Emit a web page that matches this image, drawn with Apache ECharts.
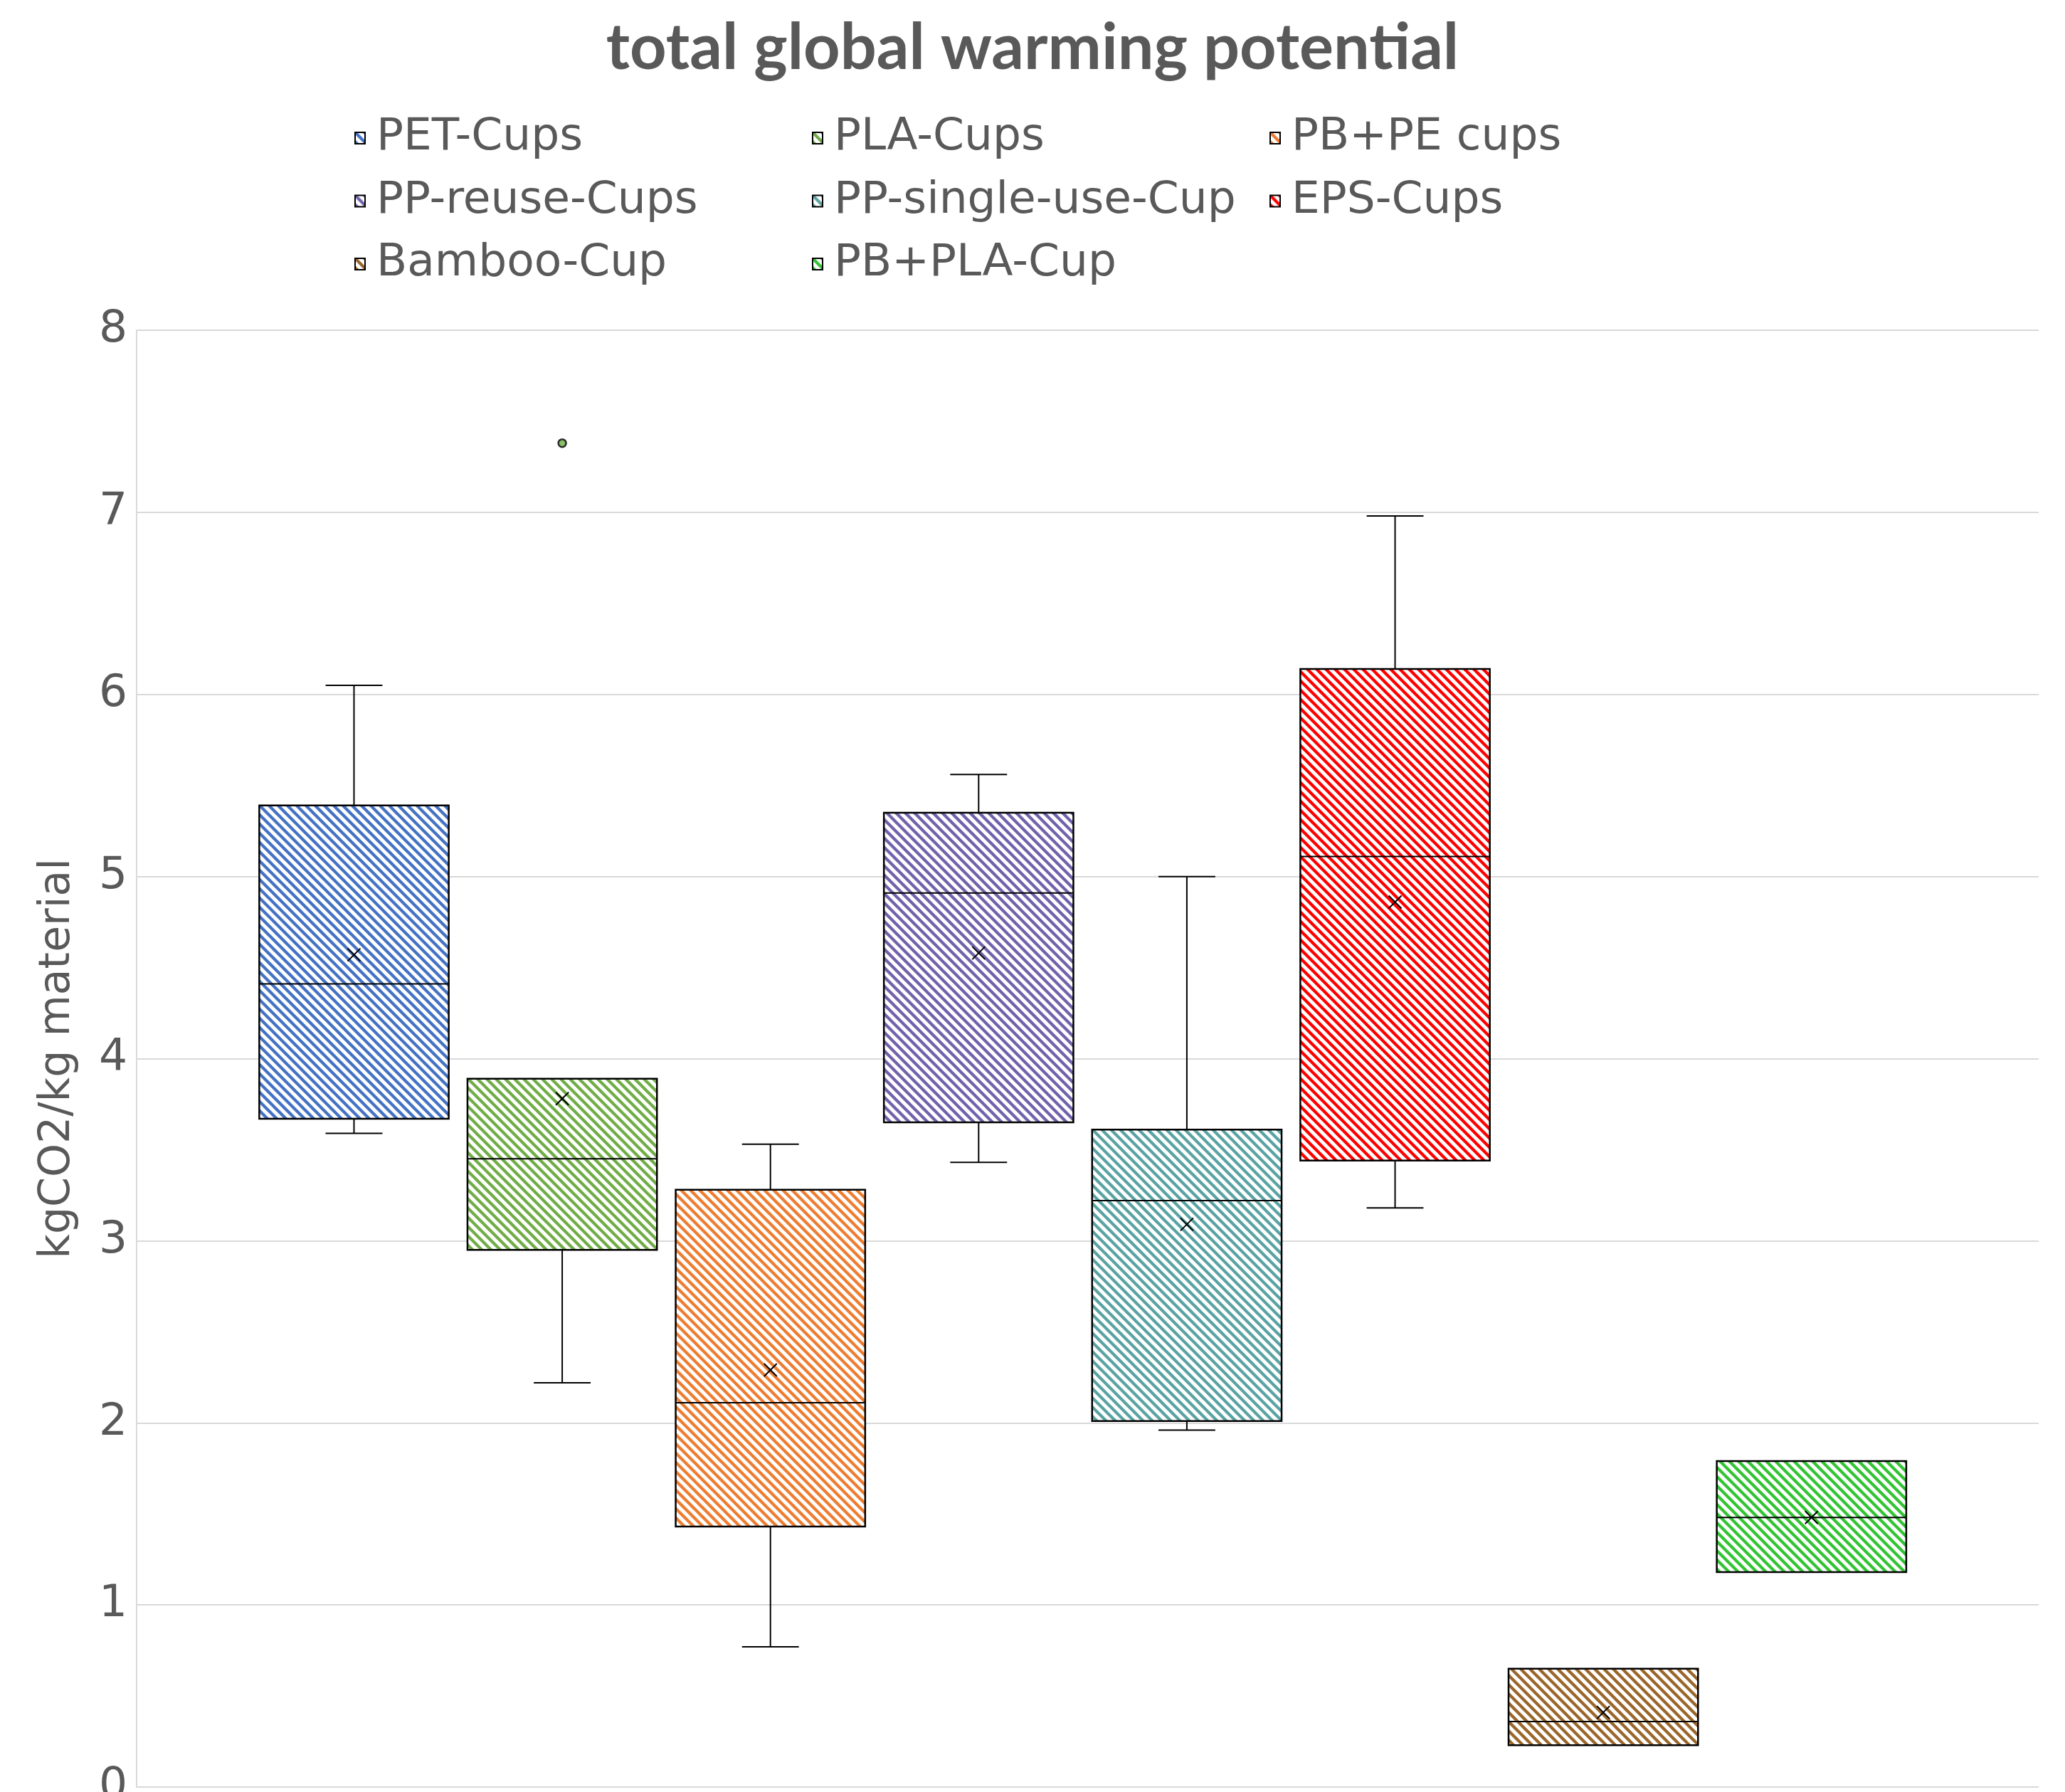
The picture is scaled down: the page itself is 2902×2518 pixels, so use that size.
<!DOCTYPE html>
<html>
<head>
<meta charset="utf-8">
<title>total global warming potential</title>
<script src="https://cdn.jsdelivr.net/npm/echarts@6/dist/echarts.min.js"></script>
<style>
  html, body { margin: 0; padding: 0; background: #ffffff; }
  #chart { width: 2902px; height: 2518px; }
</style>
</head>
<body>
<div id="chart"></div>
<script>
// Cup types, in plotting order
const cupNames = ['PET-Cups', 'PLA-Cups', 'PB+PE cups', 'PP-reuse-Cups', 'PP-single-use-Cup', 'EPS-Cups', 'Bamboo-Cup', 'PB+PLA-Cup'];
const cupColors = ['#4472c4', '#70ad47', '#ed7d31', '#7262ac', '#5ba3a3', '#ff0000', '#9a662a', '#33c433'];

// Five-number summaries plus mean, kgCO2 per kg material
const whiskerLow  = [3.59, 2.22, 0.77, 3.43, 1.96, 3.18, 0.23, 1.18];
const quartile1   = [3.67, 2.95, 1.43, 3.65, 2.01, 3.44, 0.23, 1.18];
const medianVals  = [4.41, 3.45, 2.11, 4.91, 3.22, 5.11, 0.36, 1.48];
const quartile3   = [5.39, 3.89, 3.28, 5.35, 3.61, 6.14, 0.65, 1.79];
const whiskerHigh = [6.05, 3.89, 3.53, 5.56, 5.00, 6.98, 0.65, 1.79];
const meanVals    = [4.57, 3.78, 2.29, 4.58, 3.09, 4.86, 0.41, 1.48];

// Outlying points: [cup index, value]
const outliers = [[1, 7.38]];

// Axis ticks
const yTicks = { min: 0, max: 8, interval: 1 };

// Box and whisker-cap widths in x-axis units (one unit between neighbouring boxes)
const BOX_W = 0.91;
const CAP_W = 0.273;
const MEAN_MARK = 9; // half size of the mean cross, px

// Diagonal ("\") hatch tile on white
function stripeTile(color) {
  const s = 13;
  const c = document.createElement('canvas');
  c.width = s; c.height = s;
  const g = c.getContext('2d');
  g.fillStyle = '#ffffff';
  g.fillRect(0, 0, s, s);
  g.strokeStyle = color;
  g.lineWidth = 4.3;
  [-s, 0, s].forEach(function (k) {
    g.beginPath();
    g.moveTo(k - 2, -2);
    g.lineTo(k + s + 2, s + 2);
    g.stroke();
  });
  return { image: c, repeat: 'repeat' };
}

const patterns = cupColors.map(stripeTile);

function renderBox(params, api) {
  const x = api.value(0);
  const lo = api.value(1), q1 = api.value(2), md = api.value(3), q3 = api.value(4), hi = api.value(5), mn = api.value(6);
  const children = [];
  const lineStyle = { stroke: '#000000', lineWidth: 2 };
  const hb = BOX_W / 2, hc = CAP_W / 2;

  function seg(a, b) {
    children.push({ type: 'line', shape: { x1: a[0], y1: a[1], x2: b[0], y2: b[1] }, style: lineStyle });
  }
  if (hi > q3) {
    seg(api.coord([x, q3]), api.coord([x, hi]));
    seg(api.coord([x - hc, hi]), api.coord([x + hc, hi]));
  }
  if (lo < q1) {
    seg(api.coord([x, q1]), api.coord([x, lo]));
    seg(api.coord([x - hc, lo]), api.coord([x + hc, lo]));
  }
  const tl = api.coord([x - hb, q3]);
  const br = api.coord([x + hb, q1]);
  children.push({
    type: 'rect',
    shape: { x: tl[0], y: tl[1], width: br[0] - tl[0], height: br[1] - tl[1] },
    style: { fill: patterns[params.seriesIndex], stroke: '#000000', lineWidth: 2.5 }
  });
  seg(api.coord([x - hb, md]), api.coord([x + hb, md]));
  const m = api.coord([x, mn]);
  seg([m[0] - MEAN_MARK, m[1] - MEAN_MARK], [m[0] + MEAN_MARK, m[1] + MEAN_MARK]);
  seg([m[0] - MEAN_MARK, m[1] + MEAN_MARK], [m[0] + MEAN_MARK, m[1] - MEAN_MARK]);
  return { type: 'group', children: children };
}

const boxSeries = cupNames.map(function (name, i) {
  return {
    name: name,
    type: 'custom',
    renderItem: renderBox,
    itemStyle: { color: patterns[i], borderColor: '#000000', borderWidth: 2 },
    encode: { x: 0, y: [1, 2, 3, 4, 5, 6] },
    data: [[i + 1, whiskerLow[i], quartile1[i], medianVals[i], quartile3[i], whiskerHigh[i], meanVals[i]]],
    z: 3
  };
});

const outlierSeries = {
  name: 'outliers',
  type: 'scatter',
  symbol: 'circle',
  symbolSize: 11,
  data: outliers.map(function (o) {
    return { value: [o[0] + 1, o[1]], itemStyle: { color: patterns[o[0]] } };
  }),
  itemStyle: { borderColor: '#000000', borderWidth: 2.5 },
  z: 4
};

const textFont = 'DejaVu Sans';
const legendCommon = {
  orient: 'vertical',
  top: 158,
  padding: 0,
  icon: 'rect',
  itemWidth: 14,
  itemHeight: 16,
  itemGap: 16.5,
  itemStyle: { borderColor: '#000000', borderWidth: 2 },
  textStyle: { fontFamily: textFont, fontSize: 63, lineHeight: 72, color: '#595959', padding: [0, 0, 0, 11] },
  selectedMode: false
};

const option = {
  animation: false,
  backgroundColor: '#ffffff',
  title: {
    text: 'total global warming potential',
    left: 'center',
    top: 18,
    textStyle: { fontFamily: 'Lato', fontWeight: 'bold', fontSize: 90, color: '#595959' }
  },
  legend: [
    Object.assign({ left: 498, data: [cupNames[0], cupNames[3], cupNames[6]] }, legendCommon),
    Object.assign({ left: 1141, data: [cupNames[1], cupNames[4], cupNames[7]] }, legendCommon),
    Object.assign({ left: 1784, data: [cupNames[2], cupNames[5]] }, legendCommon)
  ],
  grid: { left: 192, right: 37, top: 464, bottom: 7, containLabel: false, outerBoundsMode: 'none' },
  xAxis: {
    type: 'value',
    min: -0.044,
    max: 9.091,
    show: false
  },
  yAxis: {
    type: 'value',
    min: yTicks.min,
    max: yTicks.max,
    interval: yTicks.interval,
    name: 'kgCO2/kg material',
    nameLocation: 'middle',
    nameGap: 81,
    nameTextStyle: { fontFamily: textFont, fontSize: 60, color: '#595959' },
    axisLine: { show: true, onZero: false, lineStyle: { color: '#d9d9d9', width: 2 } },
    axisTick: { show: false },
    axisLabel: { fontFamily: textFont, fontSize: 63, color: '#595959', margin: 13 },
    splitLine: { show: true, lineStyle: { color: '#d9d9d9', width: 2 } }
  },
  series: boxSeries.concat([outlierSeries])
};

const chart = echarts.init(document.getElementById('chart'), null, { renderer: 'canvas' });
chart.setOption(option);
</script>
</body>
</html>
